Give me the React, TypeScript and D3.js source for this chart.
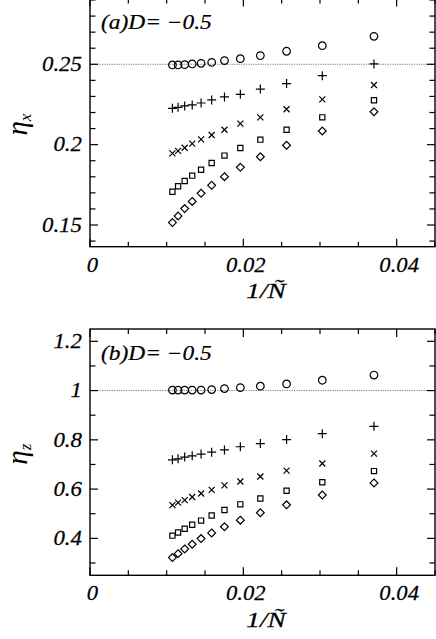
import React from 'react';
import * as d3 from 'd3';

// 1/N values (N = 93 ... 27)
const invN = [0.01075, 0.01149, 0.01235, 0.01333, 0.01449, 0.01587, 0.01754, 0.01961, 0.02222, 0.02564, 0.0303, 0.03704];

// panel (a): eta_x
const etaXCircle = [0.2496, 0.2496, 0.2498, 0.2502, 0.2506, 0.2512, 0.2523, 0.2535, 0.2554, 0.2581, 0.2616, 0.2674];
const etaXPlus = [0.2226, 0.2232, 0.2241, 0.2247, 0.2259, 0.2278, 0.2297, 0.2313, 0.2346, 0.238, 0.2429, 0.2502];
const etaXCross = [0.1946, 0.1961, 0.1981, 0.2006, 0.2033, 0.206, 0.2093, 0.2131, 0.217, 0.222, 0.2282, 0.2371];
const etaXSquare = [0.1707, 0.1741, 0.1774, 0.1807, 0.1844, 0.1886, 0.1932, 0.1979, 0.2031, 0.2093, 0.217, 0.2276];
const etaXDiamond = [0.1515, 0.1556, 0.1602, 0.1647, 0.1697, 0.1747, 0.1801, 0.1859, 0.1925, 0.1996, 0.2085, 0.2205];

// panel (b): eta_z
const etaZCircle = [1.002, 1.002, 1.002, 1.002, 1.002, 1.004, 1.008, 1.012, 1.018, 1.027, 1.042, 1.063];
const etaZPlus = [0.719, 0.723, 0.73, 0.735, 0.742, 0.75, 0.759, 0.772, 0.785, 0.801, 0.825, 0.855];
const etaZCross = [0.535, 0.545, 0.555, 0.568, 0.582, 0.597, 0.615, 0.631, 0.651, 0.675, 0.704, 0.744];
const etaZSquare = [0.411, 0.424, 0.439, 0.455, 0.472, 0.493, 0.515, 0.538, 0.562, 0.593, 0.628, 0.673];
const etaZDiamond = [0.322, 0.338, 0.357, 0.376, 0.399, 0.422, 0.447, 0.474, 0.504, 0.536, 0.576, 0.625];

const xTickLabels = ['0', '0.02', '0.04'];
const xMajor = [0, 0.02, 0.04];
const yMajorA = [0.15, 0.2, 0.25];
const yLabelsA = ['0.15', '0.2', '0.25'];
const yMajorB = [0.4, 0.6, 0.8, 1, 1.2];
const yLabelsB = ['0.4', '0.6', '0.8', '1', '1.2'];

const W = 436;
const H = 639;
const txt: React.CSSProperties = {
  fontFamily: "'Liberation Serif', 'Times New Roman', Times, serif",
  fontStyle: 'italic',
};

const x = d3.scaleLinear().domain([0, 0.045]).range([90, 435]);

type Shape = 'circle' | 'plus' | 'cross' | 'square' | 'diamond';

const markerPath = (shape: Shape) => {
  switch (shape) {
    case 'circle': {
      const p = d3.path();
      p.arc(0, 0, 3.8, 0, Math.PI * 2);
      return p.toString();
    }
    case 'plus':
      return 'M-4.5,0H4.5M0,-4.5V4.5';
    case 'cross':
      return 'M-3,-3L3,3M-3,3L3,-3';
    case 'square':
      return 'M-2.6,-2.6H2.6V2.6H-2.6Z';
    case 'diamond':
      return 'M0,-3.9L3.9,0L0,3.9L-3.9,0Z';
  }
};

interface PanelProps {
  top: number;
  bottom: number;
  yDomain: [number, number];
  yMajor: number[];
  yLabels: string[];
  yMinorStep: number;
  refLine: number;
  label: string;
  sub: string;
  series: { shape: Shape; values: number[] }[];
}

// horizontal stretch about an anchor x
const hs = (ax: number, k: number) => `translate(${ax},0) scale(${k},1) translate(${-ax},0)`;

const Panel = ({ top, bottom, yDomain, yMajor, yLabels, yMinorStep, refLine, label, sub, series }: PanelProps) => {
  const y = d3.scaleLinear().domain(yDomain).range([bottom, top]);
  const [x0, x1] = x.range();
  const yMinor = d3.range(Math.ceil(yDomain[0] / yMinorStep - 1e-6), Math.floor(yDomain[1] / yMinorStep + 1e-6) + 1)
    .map(i => +(i * yMinorStep).toFixed(4))
    .filter(v => !yMajor.some(m => Math.abs(m - v) < 1e-6));
  const xMinor = d3.range(0, 0.045001, 0.005).map(v => +v.toFixed(4)).filter(v => !xMajor.some(m => Math.abs(m - v) < 1e-6));
  const yMid = (top + bottom) / 2;

  return (
    <g>
      {/* reference dotted line */}
      <line x1={x0} x2={x1} y1={y(refLine)} y2={y(refLine)} stroke="#777" strokeWidth={1} strokeDasharray="1.2 1.2" />

      {/* ticks */}
      {xMajor.map(v => (
        <g key={'xM' + v}>
          <line x1={x(v)} x2={x(v)} y1={bottom} y2={bottom - 8} stroke="#000" strokeWidth={1.2} />
          <line x1={x(v)} x2={x(v)} y1={top} y2={top + 8} stroke="#000" strokeWidth={1.2} />
        </g>
      ))}
      {xMinor.map(v => (
        <g key={'xm' + v}>
          <line x1={x(v)} x2={x(v)} y1={bottom} y2={bottom - 5} stroke="#000" strokeWidth={1.2} />
          <line x1={x(v)} x2={x(v)} y1={top} y2={top + 5} stroke="#000" strokeWidth={1.2} />
        </g>
      ))}
      {yMajor.map(v => (
        <g key={'yM' + v}>
          <line x1={x0} x2={x0 + 8} y1={y(v)} y2={y(v)} stroke="#000" strokeWidth={1.2} />
          <line x1={x1} x2={x1 - 8} y1={y(v)} y2={y(v)} stroke="#000" strokeWidth={1.2} />
        </g>
      ))}
      {yMinor.map(v => (
        <g key={'ym' + v}>
          <line x1={x0} x2={x0 + 5.5} y1={y(v)} y2={y(v)} stroke="#000" strokeWidth={1.2} />
          <line x1={x1} x2={x1 - 5.5} y1={y(v)} y2={y(v)} stroke="#000" strokeWidth={1.2} />
        </g>
      ))}

      {/* frame */}
      <rect x={x0} y={top} width={x1 - x0} height={bottom - top} fill="none" stroke="#000" strokeWidth={1.4} />

      {/* markers */}
      {series.map(s =>
        s.values.map((v, i) => (
          <path
            key={s.shape + i}
            d={markerPath(s.shape)}
            transform={`translate(${x(invN[i])},${y(v)})`}
            fill="none"
            stroke="#000"
            strokeWidth={1.2}
          />
        ))
      )}

      {/* tick labels */}
      {xMajor.map((v, i) => (
        <text key={'xl' + v} x={x(v) + 2.5} y={bottom + 25} textAnchor="middle" fontSize={22} style={txt}
          transform={hs(x(v) + 2.5, 1.03)} stroke="#000" strokeWidth={0.25}>
          {xTickLabels[i]}
        </text>
      ))}
      {yMajor.map((v, i) => (
        <text key={'yl' + v} x={82} y={y(v) + 6.8} textAnchor="end" fontSize={22} style={txt}
          transform={hs(82, 1.04)} stroke="#000" strokeWidth={0.25}>
          {yLabels[i]}
        </text>
      ))}

      {/* axis titles */}
      <text x={266} y={bottom + 51.5} textAnchor="middle" fontSize={21} style={txt} transform={hs(266, 1.3)}
        stroke="#000" strokeWidth={0.25}>
        1/Ñ
      </text>
      <text transform={`translate(27,${yMid + 2}) rotate(-90)`} textAnchor="middle" fontSize={29} style={txt}>
        η<tspan fontSize={17} dy={4}>{sub}</tspan>
      </text>

      {/* panel label */}
      <text x={101} y={top + 31} fontSize={20} style={txt} transform={hs(101, 1.17)} stroke="#000" strokeWidth={0.2}>
        {label}
      </text>
    </g>
  );
};

export default function App() {
  return (
    <svg width={W} height={H} style={{ position: 'absolute', left: 0, top: 0, background: '#fff' }}>
      <rect width={W} height={H} fill="#fff" />
      <Panel
        top={-1.6}
        bottom={246.7}
        yDomain={[0.1365, 0.291]}
        yMajor={yMajorA}
        yLabels={yLabelsA}
        yMinorStep={0.01}
        refLine={0.25}
        label="(a)D= −0.5"
        sub="x"
        series={[
          { shape: 'circle', values: etaXCircle },
          { shape: 'plus', values: etaXPlus },
          { shape: 'cross', values: etaXCross },
          { shape: 'square', values: etaXSquare },
          { shape: 'diamond', values: etaXDiamond },
        ]}
      />
      <Panel
        top={329}
        bottom={575.3}
        yDomain={[0.25, 1.25]}
        yMajor={yMajorB}
        yLabels={yLabelsB}
        yMinorStep={0.1}
        refLine={1}
        label="(b)D= −0.5"
        sub="z"
        series={[
          { shape: 'circle', values: etaZCircle },
          { shape: 'plus', values: etaZPlus },
          { shape: 'cross', values: etaZCross },
          { shape: 'square', values: etaZSquare },
          { shape: 'diamond', values: etaZDiamond },
        ]}
      />
    </svg>
  );
}
